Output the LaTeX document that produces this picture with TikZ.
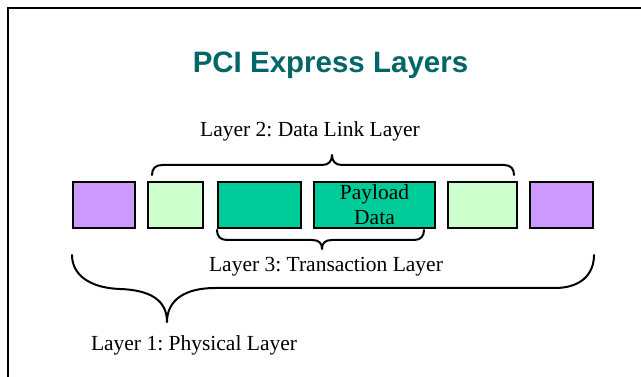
\documentclass[tikz,border=0pt]{standalone}
\usepackage{fontspec}
\setmainfont{Liberation Serif}
\newfontfamily\titlefont{Liberation Sans}
\definecolor{physcol}{HTML}{CC99FF}
\definecolor{linkcol}{HTML}{CCFFCC}
\definecolor{transcol}{HTML}{00CC99}
\definecolor{titlecol}{HTML}{006666}
\frenchspacing
\begin{document}
\begin{tikzpicture}[x=1pt,y=-1pt,
  box/.style={draw=black, line width=2pt, inner sep=0pt, outer sep=0pt, minimum height=46pt},
  lbl/.style={font=\fontsize{21.5}{25}\selectfont, anchor=base, inner sep=0pt},
  bracepath/.style={line width=2pt, line cap=round, line join=round}]
\useasboundingbox (0,0) rectangle (641,377);
\fill[white] (0,0) rectangle (641,377);
\draw[line width=2.5pt] (641,8) -- (8,8) -- (8,377);
\node[font=\titlefont\bfseries\fontsize{29.5}{34}\selectfont, text=titlecol, anchor=base, inner sep=0pt] (title) at (330.5,73) {PCI Express Layers};
% packet fields
\node[box, fill=physcol, minimum width=62pt] (p1) at (104,205) {};
\node[box, fill=linkcol, minimum width=55pt] (l1) at (175.5,205) {};
\node[box, fill=transcol, minimum width=83pt] (t1) at (259.5,205) {};
\node[box, fill=transcol, minimum width=121pt, align=center, font=\fontsize{21.5}{25}\selectfont] (t2) at (374.5,205) {Payload\\Data};
\node[box, fill=linkcol, minimum width=69pt] (l2) at (482.5,205) {};
\node[box, fill=physcol, minimum width=63pt] (p2) at (561.5,205) {};
% labels
\node[lbl] (lay2) at (310,137) {Layer 2: Data Link Layer};
\node[lbl] (lay3) at (326,272) {Layer 3: Transaction Layer};
\node[lbl] (lay1) at (194,351) {Layer 1: Physical Layer};
% braces
\draw[bracepath] (152,175) .. controls (152,169) and (155,165) .. (162,165) -- (322,165)
  .. controls (329,165) and (332,161) .. (332,155)
  .. controls (332,161) and (335,165) .. (342,165) -- (504,165)
  .. controls (511,165) and (514,169) .. (514,175);
\draw[bracepath] (217,230) .. controls (217,236) and (220,240) .. (227,240) -- (312,240)
  .. controls (319,240) and (322,243) .. (322,249)
  .. controls (322,243) and (325,240) .. (332,240) -- (414,240)
  .. controls (421,240) and (424,236) .. (424,230);
\draw[bracepath] (72,255) .. controls (72,275) and (90,288) .. (120,289)
  .. controls (150,290) and (167,300) .. (167,322)
  .. controls (167,300) and (185,288) .. (215,288) -- (555,288)
  .. controls (580,288) and (594,275) .. (594,255);
\end{tikzpicture}
\end{document}
